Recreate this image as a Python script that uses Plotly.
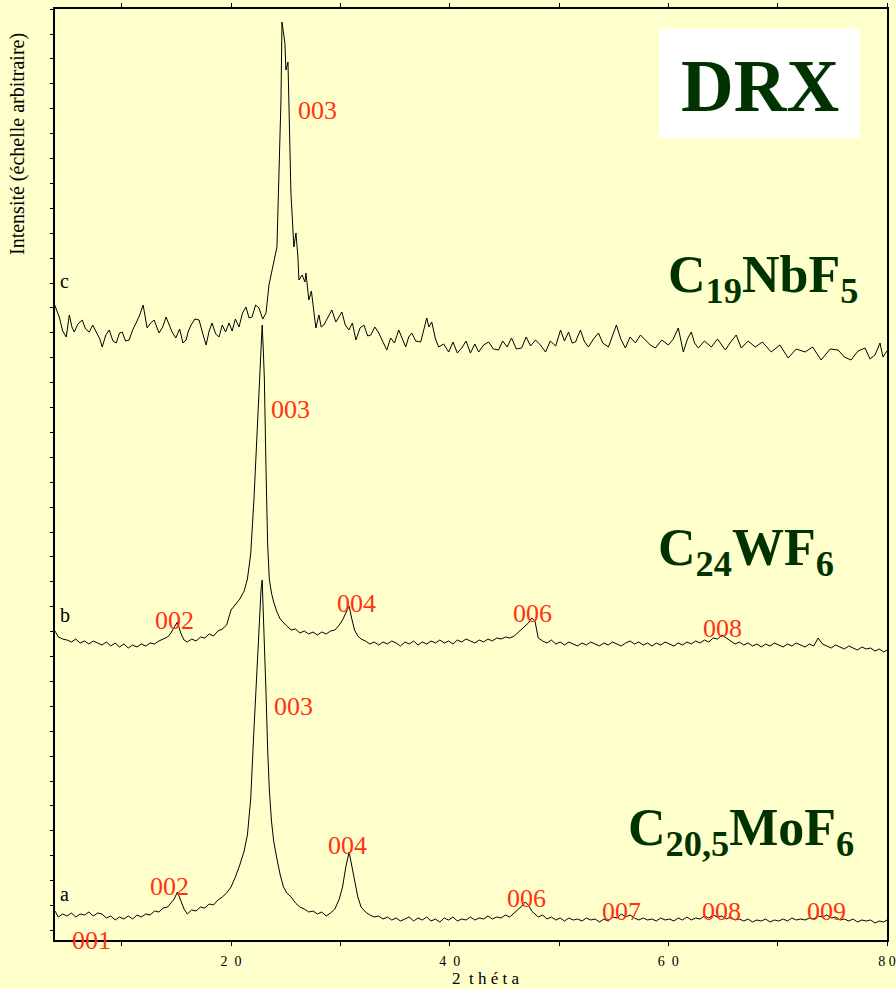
import plotly.graph_objects as go

# ---------------- data (2-theta in degrees, intensity in arbitrary units) ----------------
theta_ab = [
    3.9, 4.2, 4.6, 5.0, 5.4, 5.8, 6.2, 6.6, 7.0, 7.4,
    7.8, 8.2, 8.6, 9.0, 9.4, 9.8, 10.2, 10.6, 11.0, 11.4,
    11.8, 12.2, 12.6, 13.0, 13.4, 13.8, 14.2, 14.5, 14.8, 15.1,
    15.4, 15.7, 16.0, 16.4, 16.8, 17.2, 17.6, 18.0, 18.4, 18.8,
    19.2, 19.6, 20.0, 20.4, 20.8, 21.2, 21.5, 21.8, 22.1, 22.4,
    22.6, 22.75, 22.85, 22.95, 23.05, 23.2, 23.35, 23.5, 23.7, 23.9,
    24.2, 24.5, 24.8, 25.1, 25.5, 25.9, 26.3, 26.7, 27.1, 27.5,
    27.9, 28.3, 28.7, 29.1, 29.5, 29.9, 30.2, 30.5, 30.8, 31.05,
    31.3, 31.6, 31.9, 32.3, 32.7, 33.1, 33.5, 33.9, 34.3, 34.7,
    35.1, 35.5, 35.9, 36.3, 36.7, 37.1, 37.5, 37.9, 38.3, 38.7,
    39.1, 39.5, 39.9, 40.3, 40.7, 41.1, 41.5, 41.9, 42.3, 42.7,
    43.1, 43.5, 43.9, 44.3, 44.7, 45.1, 45.5, 45.9, 46.3, 46.6,
    46.9, 47.2, 47.5, 47.8, 48.1, 48.5, 48.9, 49.3, 49.7, 50.1,
    50.5, 50.9, 51.3, 51.7, 52.1, 52.5, 52.9, 53.3, 53.7, 54.1,
    54.5, 54.9, 55.3, 55.7, 56.1, 56.5, 56.9, 57.3, 57.7, 58.1,
    58.5, 58.9, 59.3, 59.7, 60.1, 60.5, 60.9, 61.3, 61.7, 62.1,
    62.5, 62.9, 63.3, 63.7, 64.1, 64.5, 64.9, 65.3, 65.7, 66.1,
    66.5, 66.9, 67.3, 67.7, 68.1, 68.5, 68.9, 69.3, 69.7, 70.1,
    70.5, 70.9, 71.3, 71.7, 72.1, 72.5, 72.9, 73.3, 73.7, 74.1,
    74.5, 74.9, 75.3, 75.7, 76.1, 76.5, 76.9, 77.3, 77.7, 78.1,
    78.5, 78.9, 79.3, 79.7, 80.0,
]

# (a) C20,5MoF6
a_vals = [
    28, 22, 25, 23, 26, 22, 25, 24, 27, 23,
    26, 25, 21, 23, 19, 22, 20, 23, 20, 24,
    22, 25, 24, 28, 27, 31, 32, 36, 40, 47,
    38, 30, 25, 29, 28, 32, 31, 35, 34, 39,
    42, 46, 52, 62, 74, 88, 104, 140, 210, 280,
    322, 350, 359, 330, 300, 246, 190, 150, 118, 98,
    80, 64, 52, 46, 42, 36, 32, 30, 27, 28,
    25, 27, 23, 26, 30, 40, 52, 72, 87, 74,
    58, 42, 32, 27, 24, 22, 23, 20, 22, 19,
    21, 18, 20, 22, 18, 21, 19, 22, 18, 20,
    17, 21, 19, 22, 18, 20, 19, 22, 19, 21,
    20, 23, 20, 22, 21, 24, 22, 26, 29, 33,
    37, 34, 28, 25, 22, 24, 20, 22, 19, 21,
    18, 21, 19, 20, 18, 21, 19, 20, 17, 20,
    18, 22, 21, 25, 22, 24, 21, 19, 21, 19,
    20, 18, 21, 19, 20, 18, 21, 19, 22, 19,
    21, 20, 23, 21, 24, 22, 23, 20, 22, 19,
    20, 18, 20, 17, 19, 18, 20, 17, 19, 18,
    20, 18, 21, 19, 20, 19, 21, 20, 23, 22,
    24, 21, 22, 19, 20, 18, 20, 17, 19, 18,
    19, 16, 18, 17, 19,
]

# (b) C24WF6
b_vals = [
    308, 302, 300, 299, 297, 300, 296, 298, 295, 298,
    296, 294, 297, 293, 296, 292, 295, 291, 294, 292,
    295, 293, 296, 295, 298, 300, 302, 306, 312, 317,
    306, 299, 297, 300, 298, 302, 301, 305, 303, 308,
    310, 314, 329, 335, 340, 348, 360, 385, 440, 510,
    560, 598, 614, 590, 560, 470, 395, 360, 346, 337,
    327, 320, 316, 313, 309, 310, 306, 308, 305, 307,
    304, 307, 305, 308, 309, 314, 319, 326, 333, 320,
    309, 303, 300, 298, 295, 297, 294, 297, 295, 298,
    296, 293, 297, 295, 298, 294, 297, 295, 298, 296,
    299, 296, 298, 295, 299, 297, 300, 298, 296, 299,
    297, 300, 298, 301, 300, 302, 301, 303, 307, 310,
    313, 316, 321, 318, 301, 298, 296, 299, 295, 297,
    294, 297, 295, 293, 296, 294, 297, 295, 293, 296,
    294, 297, 295, 293, 296, 298, 295, 297, 294, 296,
    293, 296, 294, 297, 295, 293, 296, 294, 297, 295,
    298, 296, 299, 297, 301, 300, 304, 301, 298, 295,
    297, 294, 296, 293, 295, 292, 295, 293, 296, 294,
    292, 295, 293, 296, 294, 292, 295, 293, 301, 295,
    293, 291, 294, 292, 290, 293, 291, 289, 292, 290,
    291, 288, 290, 287, 289,
]

# (c) C19NbF5  (theta, intensity)
c_pts = [
    (3.84, 635), (4.29, 622), (4.6, 608), (4.93, 602), (5.21, 624), (5.45, 612),
    (5.66, 607), (6.0, 615), (6.39, 619), (6.7, 610), (7.03, 607), (7.35, 614),
    (7.67, 607), (8.0, 600), (8.22, 592), (8.55, 604), (8.86, 609), (9.2, 598),
    (9.5, 596), (9.8, 606), (10.05, 607), (10.35, 598), (10.68, 599), (11.0, 609),
    (11.32, 616), (11.65, 624), (11.96, 634), (12.15, 622), (12.33, 611), (12.65, 616),
    (12.97, 619), (13.2, 612), (13.42, 606), (13.75, 612), (14.06, 622), (14.35, 614),
    (14.61, 607), (14.95, 601), (15.3, 610), (15.6, 596), (15.89, 599), (16.1, 608),
    (16.35, 614), (16.7, 620), (17.08, 619), (17.4, 606), (17.72, 594), (18.0, 608),
    (18.26, 616), (18.6, 605), (18.9, 602), (19.2, 614), (19.5, 607), (19.82, 616),
    (20.1, 608), (20.4, 620), (20.73, 612), (21.05, 626), (21.37, 632), (21.65, 621),
    (21.92, 622), (22.25, 634), (22.56, 631), (22.9, 620), (23.2, 626), (23.47, 654),
    (23.93, 679), (24.2, 692), (24.57, 839), (24.66, 917), (24.93, 896), (25.02, 869),
    (25.21, 877), (25.48, 746), (25.75, 692), (25.94, 706), (26.12, 682), (26.21, 659),
    (26.5, 664), (26.76, 657), (26.85, 666), (27.12, 639), (27.35, 648), (27.58, 629),
    (27.76, 611), (28.04, 624), (28.25, 612), (28.49, 614), (28.85, 622), (29.22, 629),
    (29.59, 617), (29.85, 622), (30.14, 627), (30.45, 614), (30.78, 609), (31.1, 616),
    (31.42, 599), (31.8, 611), (32.15, 614), (32.5, 603), (32.79, 604), (33.15, 612),
    (33.52, 606), (33.9, 597), (34.25, 589), (34.6, 601), (34.95, 596), (35.34, 609),
    (35.65, 600), (35.98, 592), (36.25, 602), (36.53, 606), (36.9, 598), (37.35, 597),
    (37.65, 610), (37.9, 621), (38.1, 612), (38.36, 617), (38.7, 600), (39.0, 592),
    (39.45, 595), (39.91, 587), (40.3, 597), (40.7, 586), (41.1, 591), (41.5, 598),
    (41.9, 586), (42.3, 595), (42.65, 587), (43.1, 594), (43.56, 597), (44.0, 590),
    (44.47, 589), (44.85, 598), (45.25, 592), (45.66, 601), (46.1, 590), (46.58, 591),
    (47.0, 602), (47.4, 593), (47.85, 599), (48.3, 594), (48.77, 587), (49.2, 598),
    (49.7, 593), (50.14, 609), (50.5, 598), (50.87, 607), (51.2, 596), (51.51, 597),
    (51.96, 609), (52.3, 598), (52.69, 592), (53.15, 600), (53.61, 606), (54.0, 596),
    (54.52, 592), (54.9, 603), (55.25, 614), (55.65, 600), (56.07, 591), (56.5, 602),
    (56.99, 596), (57.45, 604), (57.9, 599), (58.35, 594), (58.81, 591), (59.4, 599),
    (60.0, 594), (60.45, 600), (60.91, 611), (61.37, 587), (61.75, 600), (62.1, 607),
    (62.4, 596), (62.74, 591), (63.3, 598), (63.93, 592), (64.5, 600), (65.21, 589),
    (65.7, 597), (66.21, 604), (66.67, 591), (67.3, 598), (67.95, 592), (68.6, 597),
    (69.41, 587), (70.2, 594), (70.96, 581), (71.7, 590), (72.51, 587), (73.2, 592),
    (73.97, 579), (74.8, 590), (75.53, 589), (76.1, 582), (76.71, 579), (77.35, 588),
    (77.99, 591), (78.45, 580), (78.9, 584), (79.36, 596), (79.63, 582), (80.0, 588),
]

NB = "\u00a0"
x_tickvals = [20, 40, 60, 80]
x_ticktext = ["2" + NB * 2 + "0", "4" + NB * 2 + "0", "6" + NB * 2 + "0", "8" + NB + "0"]
x_minor = [10, 30, 50, 70]

# ---------------- figure ----------------
W, H = 896, 989
L, R, T, B = 55, 9, 9, 49
PW, PH = W - L - R, H - T - B


def px(x):
    return (x - L) / PW


def py(y):
    return (H - B - y) / PH


BG = "#FFFFCC"
RED = "#FF3311"
GREEN = "#003300"
SERIF = "Liberation Serif"

fig = go.Figure()
line = dict(color="black", width=1)
fig.add_trace(go.Scatter(x=theta_ab, y=a_vals, mode="lines", line=line, hoverinfo="skip"))
fig.add_trace(go.Scatter(x=theta_ab, y=b_vals, mode="lines", line=line, hoverinfo="skip"))
fig.add_trace(go.Scatter(x=[p[0] for p in c_pts], y=[p[1] for p in c_pts], mode="lines",
                         line=line, hoverinfo="skip"))

ann = []


def label(text, x, y, size, color, **kw):
    d = dict(text=text, x=px(x), y=py(y), xref="paper", yref="paper", showarrow=False,
             xanchor="center", yanchor="middle",
             font=dict(family=SERIF, size=size, color=color))
    d.update(kw)
    ann.append(d)


# reflection indices
for t, x, y in [
    ("003", 317, 111),
    ("003", 290, 410), ("002", 174, 620), ("004", 356, 603), ("006", 532, 613), ("008", 722, 628),
    ("003", 293, 706), ("002", 169, 886), ("004", 347, 845), ("006", 526, 898),
    ("007", 621, 911), ("008", 721, 911), ("009", 826, 911), ("001", 91, 940),
]:
    label(t, x, y, 26, RED)

# curve letters
label("c", 58, 281, 20, "black", xanchor="left")
label("b", 58, 615, 20, "black", xanchor="left")
label("a", 58, 894, 20, "black", xanchor="left")

# compound names
label("<b>C<sub>19</sub>NbF<sub>5</sub></b>", 763, 278, 52, GREEN)
label("<b>C<sub>24</sub>WF<sub>6</sub></b>", 746, 551, 52, GREEN)
label("<b>C<sub>20,5</sub>MoF<sub>6</sub></b>", 741, 831, 52, GREEN)

# DRX box
label("<b>DRX</b>", 760, 86, 73, GREEN)

# axis titles
label("2" + NB * 2 + NB.join("théta"), 485, 978, 17, "black")
label("Intensité (échelle arbitraire)", 18, 144, 20, "black", textangle=-90)

fig.update_layout(
    width=W, height=H,
    margin=dict(l=L, r=R, t=T, b=B, autoexpand=False),
    paper_bgcolor=BG, plot_bgcolor=BG,
    showlegend=False,
    annotations=ann,
    shapes=[dict(type="rect", xref="paper", yref="paper",
                 x0=px(659), x1=px(860), y0=py(138), y1=py(29),
                 fillcolor="white", line=dict(width=0), layer="below")],
    xaxis=dict(
        range=[3.9, 80], showgrid=False, zeroline=False, automargin=False,
        showline=True, linecolor="black", linewidth=1.5, mirror="ticks",
        ticks="outside", ticklen=4, tickcolor="black", tickwidth=1,
        tickvals=x_tickvals, ticktext=x_ticktext, ticklabelstandoff=3,
        ticklabeloverflow="allow",
        tickfont=dict(family=SERIF, size=14, color="black"),
        minor=dict(tickvals=x_minor, ticks="outside", ticklen=4, tickcolor="black", tickwidth=1),
    ),
    yaxis=dict(
        range=[-1, 930], showgrid=False, zeroline=False, automargin=False,
        showline=True, linecolor="black", linewidth=2, mirror=True,
        ticks="outside", ticklen=3, tickcolor="black", tickwidth=1,
        tick0=8.6, dtick=24.9, showticklabels=False,
    ),
)

fig.write_html("out.html")
